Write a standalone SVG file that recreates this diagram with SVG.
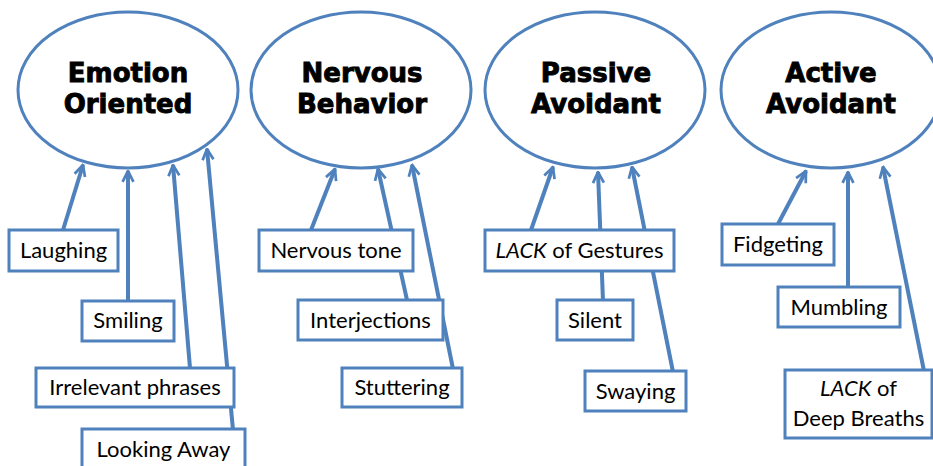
<svg xmlns="http://www.w3.org/2000/svg" width="933" height="466" viewBox="0 0 933 466">
<defs>
<style>
.el{fill:#fff;stroke:#4F81BD;stroke-width:3}
.bx{fill:#fff;stroke:#4F81BD;stroke-width:3}
.ttl{font-family:"DejaVu Sans",sans-serif;font-weight:bold;font-size:26px;fill:#000;stroke:#000;stroke-width:0.9;text-anchor:middle}
.lb{font-family:Lato,"Open Sans",sans-serif;font-size:22px;fill:#000;text-anchor:middle}
.cn{stroke:#4F81BD;stroke-width:4;fill:none;marker-end:url(#ah)}
</style>
<marker id="ah" viewBox="0 0 10 10" refX="9" refY="5" markerWidth="3.4" markerHeight="4.4" orient="auto" markerUnits="strokeWidth">
<path d="M1,1 L9,5 L1,9" fill="none" stroke="#4F81BD" stroke-width="2"/>
</marker>
</defs>
<rect width="933" height="466" fill="#fff"/>
<g id="connectors">
<line class="cn" x1="63" y1="230" x2="83" y2="165"/>
<line class="cn" x1="128" y1="300" x2="128" y2="171"/>
<line class="cn" x1="190" y1="368" x2="173" y2="165"/>
<line class="cn" x1="233" y1="430" x2="207" y2="149"/>
<line class="cn" x1="311" y1="230" x2="335" y2="169"/>
<line class="cn" x1="407" y1="300" x2="378" y2="169"/>
<line class="cn" x1="453" y1="369" x2="412" y2="165"/>
<line class="cn" x1="531" y1="230" x2="553" y2="167"/>
<line class="cn" x1="603" y1="301" x2="598" y2="172"/>
<line class="cn" x1="673" y1="372" x2="632" y2="167"/>
<line class="cn" x1="778" y1="224" x2="806" y2="171"/>
<line class="cn" x1="848" y1="288" x2="848" y2="172"/>
<line class="cn" x1="924" y1="371" x2="883" y2="167"/>
</g>
<g id="emotion-oriented"><ellipse class="el" cx="128" cy="90" rx="110" ry="78"/><text class="ttl" x="128" y="82">Emotion</text><text class="ttl" x="128" y="113">Oriented</text></g>
<g id="nervous-behavior"><ellipse class="el" cx="361" cy="90" rx="110" ry="78"/><text class="ttl" x="362" y="82">Nervous</text><text class="ttl" x="362" y="113">Behavior</text></g>
<g id="passive-avoidant"><ellipse class="el" cx="595" cy="90" rx="110" ry="78"/><text class="ttl" x="596" y="82">Passive</text><text class="ttl" x="596" y="113">Avoidant</text></g>
<g id="active-avoidant"><ellipse class="el" cx="831" cy="90" rx="110" ry="78"/><text class="ttl" x="831" y="82">Active</text><text class="ttl" x="831" y="113">Avoidant</text></g>
<g id="laughing"><rect class="bx" x="9" y="230" width="109" height="41"/><text class="lb" x="63.5" y="258">Laughing</text></g>
<g id="smiling"><rect class="bx" x="82" y="301" width="92" height="40"/><text class="lb" x="128" y="328">Smiling</text></g>
<g id="irrelevant-phrases"><rect class="bx" x="36" y="368" width="198" height="39"/><text class="lb" x="135" y="395">Irrelevant phrases</text></g>
<g id="looking-away"><rect class="bx" x="82" y="429" width="163" height="42"/><text class="lb" x="163.5" y="457">Looking Away</text></g>
<g id="nervous-tone"><rect class="bx" x="259" y="230" width="154" height="41"/><text class="lb" x="336" y="258">Nervous tone</text></g>
<g id="interjections"><rect class="bx" x="298" y="300" width="145" height="40"/><text class="lb" x="370.5" y="328">Interjections</text></g>
<g id="stuttering"><rect class="bx" x="342" y="368" width="120" height="39"/><text class="lb" x="402" y="395">Stuttering</text></g>
<g id="lack-of-gestures"><rect class="bx" x="485" y="230" width="189" height="41"/><text class="lb" x="579.5" y="258"><tspan font-style="italic">LACK</tspan> of Gestures</text></g>
<g id="silent"><rect class="bx" x="557" y="300" width="76" height="40"/><text class="lb" x="595" y="328">Silent</text></g>
<g id="swaying"><rect class="bx" x="585" y="371" width="101" height="40"/><text class="lb" x="635.5" y="399">Swaying</text></g>
<g id="fidgeting"><rect class="bx" x="722" y="224" width="112" height="41"/><text class="lb" x="778" y="252">Fidgeting</text></g>
<g id="mumbling"><rect class="bx" x="778" y="287" width="122" height="40"/><text class="lb" x="839" y="315">Mumbling</text></g>
<g id="lack-of-deep-breaths"><rect class="bx" x="785" y="370" width="147" height="68"/><text class="lb" x="858.5" y="396"><tspan font-style="italic">LACK</tspan> of</text><text class="lb" x="858.5" y="426">Deep Breaths</text></g>
</svg>
